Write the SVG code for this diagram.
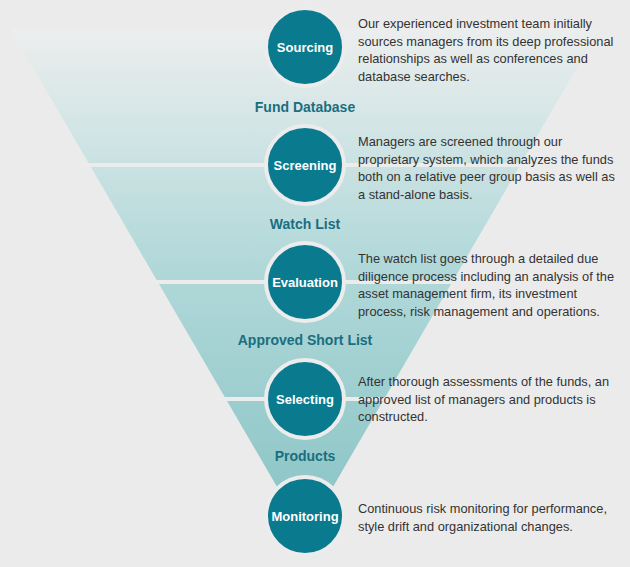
<svg xmlns="http://www.w3.org/2000/svg" width="630" height="567" viewBox="0 0 630 567">
<style>
.c{fill:#0a7b8f;stroke:#ececec;stroke-width:4}
.n{font-family:"Liberation Sans",Arial,sans-serif;font-size:13px;font-weight:bold;fill:#fff;text-anchor:middle}
.l{font-family:"Liberation Sans",Arial,sans-serif;font-size:14px;font-weight:bold;fill:#1a6e80;text-anchor:middle}
.d{font-family:"Liberation Sans",Arial,sans-serif;font-size:12.8px;fill:#333}
.s{stroke:#ececec;stroke-width:4}
</style>
<defs>
<linearGradient id="g" x1="0" y1="0" x2="0" y2="1">
<stop offset="0" stop-color="#eceeee"/>
<stop offset="0.45" stop-color="#b3d9da"/>
<stop offset="1" stop-color="#88c3c4"/>
</linearGradient>
</defs>
<rect width="630" height="567" fill="#ebebeb"/>
<polygon points="10,28 600,28 305,535" fill="url(#g)"/>
<g id="connectors">
<line class="s" x1="80" y1="165" x2="540" y2="165"/>
<line class="s" x1="150" y1="282" x2="470" y2="282"/>
<line class="s" x1="215" y1="399" x2="400" y2="399"/>
</g>
<g id="sourcing"><circle class="c" cx="305" cy="47" r="39"/><text class="n" x="305" y="52">Sourcing</text>
<text class="d" x="358" y="28">Our experienced investment team initially</text><text class="d" x="358" y="45.5">sources managers from its deep professional</text><text class="d" x="358" y="63">relationships as well as conferences and</text><text class="d" x="358" y="80.5">database searches.</text></g>
<g id="fund-database"><text class="l" x="305" y="112">Fund Database</text></g>
<g id="screening"><circle class="c" cx="305" cy="165" r="39"/><text class="n" x="305" y="170">Screening</text>
<text class="d" x="358" y="146">Managers are screened through our</text><text class="d" x="358" y="163.5">proprietary system, which analyzes the funds</text><text class="d" x="358" y="181">both on a relative peer group basis as well as</text><text class="d" x="358" y="198.5">a stand-alone basis.</text></g>
<g id="watch-list"><text class="l" x="305" y="229">Watch List</text></g>
<g id="evaluation"><circle class="c" cx="305" cy="282" r="39"/><text class="n" x="305" y="287">Evaluation</text>
<text class="d" x="358" y="263">The watch list goes through a detailed due</text><text class="d" x="358" y="280.5">diligence process including an analysis of the</text><text class="d" x="358" y="298">asset management firm, its investment</text><text class="d" x="358" y="315.5">process, risk management and operations.</text></g>
<g id="approved-short-list"><text class="l" x="305" y="345">Approved Short List</text></g>
<g id="selecting"><circle class="c" cx="305" cy="399" r="39"/><text class="n" x="305" y="404">Selecting</text>
<text class="d" x="358" y="386">After thorough assessments of the funds, an</text><text class="d" x="358" y="403.5">approved list of managers and products is</text><text class="d" x="358" y="421">constructed.</text></g>
<g id="products"><text class="l" x="305" y="461">Products</text></g>
<g id="monitoring"><circle class="c" cx="305" cy="516" r="39"/><text class="n" x="305" y="521">Monitoring</text>
<text class="d" x="358" y="513">Continuous risk monitoring for performance,</text><text class="d" x="358" y="530.5">style drift and organizational changes.</text></g>
</svg>
